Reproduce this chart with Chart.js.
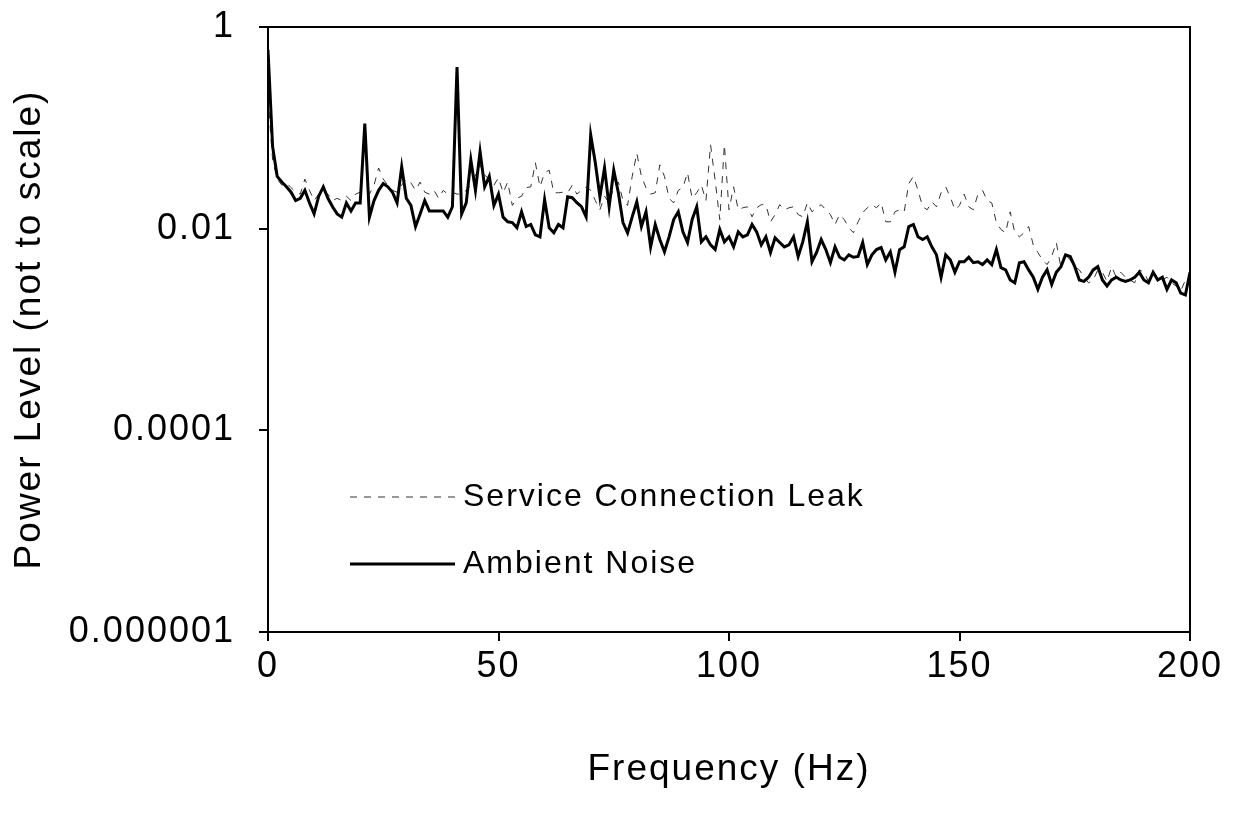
<!DOCTYPE html>
<html>
<head>
<meta charset="utf-8">
<script src="https://cdn.jsdelivr.net/npm/chart.js@4.4.1/dist/chart.umd.min.js"></script>
<style>
  html, body { margin: 0; padding: 0; background: #fff; }
  #chart { display: block; }
</style>
</head>
<body>
<canvas id="chart" width="1241" height="814"></canvas>
<script>
// Power spectra, one value per Hz from 0 to 200 Hz
const ambientNoise = [
  0.59, 0.065, 0.033, 0.029, 0.026, 0.023, 0.019, 0.020, 0.024, 0.018,
  0.014, 0.021, 0.026, 0.020, 0.0165, 0.014, 0.013, 0.018, 0.015, 0.018,
  0.018, 0.11, 0.013, 0.019, 0.024, 0.028, 0.026, 0.023, 0.018, 0.041,
  0.020, 0.017, 0.0105, 0.014, 0.019, 0.015, 0.015, 0.015, 0.015, 0.013,
  0.0165, 0.40, 0.014, 0.018, 0.048, 0.024, 0.058, 0.026, 0.033, 0.017,
  0.022, 0.013, 0.0117, 0.0115, 0.0102, 0.0147, 0.0105, 0.011, 0.0087, 0.0083,
  0.0194, 0.0102, 0.0091, 0.011, 0.0102, 0.0207, 0.0203, 0.0181, 0.0165, 0.0131,
  0.085, 0.045, 0.0207, 0.040, 0.0165, 0.038, 0.0227, 0.0115, 0.0091, 0.0131,
  0.0185, 0.0105, 0.0147, 0.0066, 0.011, 0.0078, 0.0059, 0.0083, 0.0123, 0.0147,
  0.0093, 0.0073, 0.0123, 0.0165, 0.0074, 0.0083, 0.0069, 0.0062, 0.0098, 0.0074,
  0.0083, 0.0066, 0.0093, 0.0083, 0.0087, 0.011, 0.0093, 0.0069, 0.0083, 0.0058,
  0.0081, 0.0073, 0.0066, 0.0069, 0.0083, 0.0053, 0.0074, 0.0117, 0.0047, 0.0058,
  0.0078, 0.0062, 0.0046, 0.0066, 0.0052, 0.0049, 0.0055, 0.0052, 0.0053, 0.0073,
  0.0044, 0.0055, 0.0062, 0.0065, 0.0049, 0.0059, 0.0037, 0.0062, 0.0066, 0.0105,
  0.011, 0.0083, 0.0078, 0.0083, 0.0066, 0.0055, 0.0033, 0.0055, 0.0049, 0.0037,
  0.0047, 0.0047, 0.0052, 0.0046, 0.0047, 0.0044, 0.0049, 0.0044, 0.0062, 0.0041,
  0.0039, 0.0031, 0.0029, 0.0046, 0.0047, 0.0039, 0.0033, 0.0025, 0.0033, 0.0039,
  0.0028, 0.0037, 0.0042, 0.0055, 0.0053, 0.0042, 0.0031, 0.0030, 0.0033, 0.0039,
  0.0042, 0.0031, 0.0027, 0.0031, 0.0033, 0.0031, 0.0030, 0.0031, 0.0033, 0.0037,
  0.0031, 0.0029, 0.0037, 0.0031, 0.0033, 0.0025, 0.0031, 0.0029, 0.0023, 0.0022,
  0.0037
];

const serviceLeak = [
  0.20, 0.048, 0.031, 0.027, 0.0285, 0.0255, 0.023, 0.022, 0.031, 0.024,
  0.019, 0.022, 0.024, 0.022, 0.019, 0.020, 0.019, 0.021, 0.019, 0.022,
  0.023, 0.024, 0.022, 0.027, 0.040, 0.031, 0.027, 0.024, 0.023, 0.027,
  0.031, 0.0285, 0.024, 0.029, 0.023, 0.022, 0.024, 0.020, 0.024, 0.022,
  0.023, 0.022, 0.022, 0.024, 0.027, 0.034, 0.043, 0.034, 0.031, 0.027,
  0.032, 0.0227, 0.029, 0.017, 0.020, 0.021, 0.0255, 0.026, 0.045, 0.026,
  0.036, 0.038, 0.0227, 0.0227, 0.023, 0.0227, 0.027, 0.022, 0.024, 0.026,
  0.024, 0.019, 0.0154, 0.021, 0.018, 0.026, 0.029, 0.019, 0.017, 0.033,
  0.056, 0.033, 0.0255, 0.022, 0.0227, 0.043, 0.033, 0.020, 0.018, 0.024,
  0.0255, 0.036, 0.020, 0.0227, 0.027, 0.019, 0.068, 0.030, 0.0123, 0.068,
  0.0154, 0.026, 0.0154, 0.0161, 0.0165, 0.0131, 0.0161, 0.0173, 0.0173, 0.0117,
  0.0138, 0.0173, 0.0154, 0.0161, 0.0165, 0.0138, 0.0131, 0.0181, 0.0147, 0.0161,
  0.0173, 0.0154, 0.0138, 0.011, 0.0138, 0.0123, 0.0102, 0.0091, 0.0117, 0.0144,
  0.0161, 0.0173, 0.0161, 0.0181, 0.0117, 0.0117, 0.0147, 0.0154, 0.0147, 0.028,
  0.033, 0.024, 0.0165, 0.0154, 0.0185, 0.0165, 0.0227, 0.026, 0.0207, 0.0154,
  0.017, 0.022, 0.0165, 0.0154, 0.022, 0.024, 0.019, 0.018, 0.0115, 0.0098,
  0.0091, 0.0147, 0.0091, 0.0083, 0.0091, 0.0105, 0.0069, 0.0058, 0.0049, 0.0044,
  0.0053, 0.0073, 0.0041, 0.0055, 0.0049, 0.0042, 0.0039, 0.0033, 0.0029, 0.0031,
  0.0039, 0.0037, 0.0030, 0.0042, 0.0033, 0.0037, 0.0033, 0.0031, 0.0029, 0.0039,
  0.0037, 0.0030, 0.0037, 0.0033, 0.0031, 0.0033, 0.0029, 0.0027, 0.0024, 0.0031,
  0.0035
];

// frequency of each sample (Hz)
const frequencies = ambientNoise.map((_, i) => i);

const yTickValues = [1, 0.01, 0.0001, 0.000001];
const yTickLabels = ['1', '0.01', '0.0001', '0.000001'];
const xTickValues = [0, 50, 100, 150, 200];

const FONT = "'Liberation Sans', Arial, sans-serif";

function toPoints(values) {
    return values.map((v, i) => ({ x: frequencies[i], y: v }));
}

// letter spacing for all canvas text
const spacing = {
    id: 'spacing',
    beforeUpdate(chart) { chart.ctx.letterSpacing = '2px'; },
    beforeDraw(chart) { chart.ctx.letterSpacing = '2px'; }
};

// box around the plot area
const frame = {
    id: 'frame',
    afterDraw(chart) {
        const { ctx, chartArea: a } = chart;
        ctx.save();
        ctx.strokeStyle = '#000';
        ctx.lineWidth = 2;
        ctx.strokeRect(a.left, a.top, a.right - a.left, a.bottom - a.top);
        ctx.restore();
    }
};

// legend drawn inside the plot, lower left
const insideLegend = {
    id: 'insideLegend',
    afterDatasetsDraw(chart) {
        const { ctx, chartArea: a } = chart;
        const order = [1, 0];
        ctx.save();
        ctx.letterSpacing = '2px';
        ctx.font = '32px ' + FONT;
        ctx.textBaseline = 'middle';
        ctx.fillStyle = '#000';
        order.forEach((idx, row) => {
            const ds = chart.data.datasets[idx];
            const y = a.top + 470 + row * 67;
            const x0 = a.left + 82;
            ctx.beginPath();
            ctx.strokeStyle = ds.borderColor;
            ctx.lineWidth = ds.borderWidth;
            ctx.setLineDash(ds.borderDash || []);
            ctx.moveTo(x0, y);
            ctx.lineTo(x0 + 105, y);
            ctx.stroke();
            ctx.setLineDash([]);
            ctx.fillText(ds.label, x0 + 113, y);
        });
        ctx.restore();
    }
};

const ctx = document.getElementById('chart').getContext('2d');
const chart = new Chart(ctx, {
    type: 'line',
    data: {
        datasets: [
            {
                label: 'Ambient Noise',
                data: toPoints(ambientNoise),
                borderColor: '#000',
                borderWidth: 3,
                pointRadius: 0,
                tension: 0
            },
            {
                label: 'Service Connection Leak',
                data: toPoints(serviceLeak),
                borderColor: '#333',
                borderWidth: 1,
                borderDash: [7, 7],
                pointRadius: 0,
                tension: 0
            }
        ]
    },
    options: {
        responsive: false,
        animation: false,
        layout: { padding: { left: 0, right: 51, top: 27, bottom: 0 } },
        plugins: {
            legend: { display: false },
            tooltip: { enabled: false }
        },
        scales: {
            x: {
                type: 'linear',
                min: 0,
                max: 200,
                afterFit(scale) {
                    scale.height = 182;
                    scale.paddingLeft = 0;
                    scale.paddingRight = 0;
                },
                afterBuildTicks(scale) { scale.ticks = xTickValues.map(v => ({ value: v })); },
                border: { display: true, color: '#000', width: 2 },
                grid: { drawOnChartArea: false, drawTicks: true, tickLength: 9, color: '#000', lineWidth: 2 },
                ticks: {
                    color: '#000',
                    font: { family: FONT, size: 36 },
                    padding: 4,
                    maxRotation: 0,
                    autoSkip: false
                },
                title: {
                    display: true,
                    text: 'Frequency (Hz)',
                    color: '#000',
                    font: { family: FONT, size: 37 },
                    padding: { top: 0, bottom: 22 }
                }
            },
            y: {
                type: 'logarithmic',
                min: 0.000001,
                max: 1,
                afterFit(scale) {
                    scale.width = 268;
                    scale.paddingTop = 0;
                    scale.paddingBottom = 0;
                },
                afterBuildTicks(scale) { scale.ticks = yTickValues.map(v => ({ value: v })); },
                border: { display: true, color: '#000', width: 2 },
                grid: { drawOnChartArea: false, drawTicks: true, tickLength: 9, color: '#000', lineWidth: 2 },
                ticks: {
                    color: '#000',
                    font: { family: FONT, size: 36 },
                    padding: 24,
                    autoSkip: false,
                    callback(value) {
                        const i = yTickValues.findIndex(v => Math.abs(Math.log10(v) - Math.log10(value)) < 1e-6);
                        return i >= 0 ? yTickLabels[i] : '';
                    }
                },
                title: {
                    display: true,
                    text: 'Power Level (not to scale)',
                    color: '#000',
                    font: { family: FONT, size: 37 },
                    padding: { top: 8, bottom: 0 }
                }
            }
        }
    },
    plugins: [spacing, frame, insideLegend]
});
</script>
</body>
</html>
